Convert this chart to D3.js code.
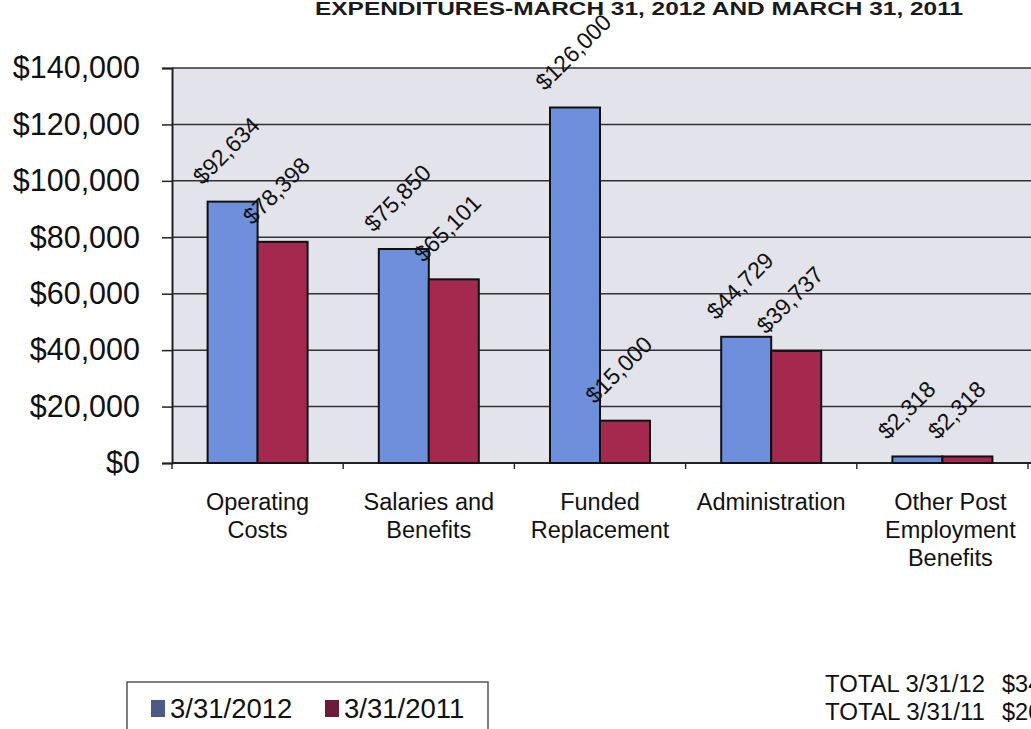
<!DOCTYPE html>
<html>
<head>
<meta charset="utf-8">
<script src="https://cdn.jsdelivr.net/npm/d3@7"></script>
<style>
  html, body { margin: 0; padding: 0; background: #ffffff; }
  svg { display: block; font-family: Arial, "Liberation Sans", Helvetica, sans-serif; }
</style>
</head>
<body>
<svg id="chart" width="1031" height="729"></svg>
<script>
// Expenditure categories (multi-line axis labels)
const categories = [
  ["Operating", "Costs"],
  ["Salaries and", "Benefits"],
  ["Funded", "Replacement"],
  ["Administration"],
  ["Other Post", "Employment", "Benefits"]
];
const seriesNames = ["3/31/2012", "3/31/2011"];
const values2012 = [92634, 75850, 126000, 44729, 2318];
const values2011 = [78398, 65101, 15000, 39737, 2318];
const yTicks = [0, 20000, 40000, 60000, 80000, 100000, 120000, 140000];
const titleText = "EXPENDITURES-MARCH 31, 2012 AND MARCH 31, 2011";
const totalLabels = ["TOTAL 3/31/12", "TOTAL 3/31/11"];

const barColors = ["#6d8fdc", "#a3294f"];
const swatchColors = ["#4b5b86", "#6a1c3a"];

const svg = d3.select("#chart");
const W = 1031, H = 729;
const plot = { left: 172, right: 1028, top: 68, bottom: 463 };

const y = d3.scaleLinear().domain([0, 140000]).range([plot.bottom, plot.top]);
const x0 = d3.scaleBand()
  .domain(d3.range(categories.length))
  .range([plot.left, plot.right])
  .padding(0);
const groupPad = 35.6;
const x1 = d3.scaleBand()
  .domain([0, 1])
  .range([groupPad, x0.bandwidth() - groupPad])
  .padding(0);

// Plot area background
svg.append("rect")
  .attr("x", plot.left).attr("y", plot.top)
  .attr("width", W - plot.left + 10).attr("height", plot.bottom - plot.top)
  .attr("fill", "#e3e3eb");

// Horizontal gridlines
svg.append("g")
  .selectAll("line")
  .data(yTicks)
  .join("line")
  .attr("x1", plot.left).attr("x2", W + 10)
  .attr("y1", d => y(d)).attr("y2", d => y(d))
  .attr("stroke", "#333").attr("stroke-width", 1.5);

// Y axis with currency labels
const fmt = d3.format("$,.0f");
const yAxis = svg.append("g")
  .attr("transform", `translate(${plot.left},0)`)
  .call(d3.axisLeft(y).tickValues(yTicks).tickFormat(fmt).tickSize(10).tickPadding(22));
yAxis.select(".domain").attr("stroke", "#222").attr("stroke-width", 2);
yAxis.selectAll(".tick line").attr("stroke", "#222").attr("stroke-width", 1.5);
yAxis.selectAll(".tick text")
  .attr("font-size", 30.5).attr("fill", "#111")
  .attr("font-family", "Arial, 'Liberation Sans', sans-serif");

// X axis baseline with tick marks at category boundaries
const xAxis = svg.append("g");
xAxis.append("line")
  .attr("x1", plot.left).attr("x2", W + 10)
  .attr("y1", plot.bottom).attr("y2", plot.bottom)
  .attr("stroke", "#222").attr("stroke-width", 2);
xAxis.selectAll("line.tk")
  .data(d3.range(categories.length + 1))
  .join("line")
  .attr("class", "tk")
  .attr("x1", d => plot.left + d * x0.step())
  .attr("x2", d => plot.left + d * x0.step())
  .attr("y1", plot.bottom).attr("y2", plot.bottom + 6)
  .attr("stroke", "#222").attr("stroke-width", 1.4);

// Bars
const groups = svg.append("g")
  .selectAll("g")
  .data(categories.map((c, i) => [values2012[i], values2011[i]]))
  .join("g")
  .attr("transform", (d, i) => `translate(${x0(i)},0)`);

groups.selectAll("rect")
  .data(d => d)
  .join("rect")
  .attr("x", (d, j) => x1(j))
  .attr("y", d => y(d))
  .attr("width", x1.bandwidth())
  .attr("height", d => plot.bottom - y(d))
  .attr("fill", (d, j) => barColors[j])
  .attr("stroke", "#111")
  .attr("stroke-width", 2);

// Rotated value labels
groups.selectAll("text.val")
  .data(d => d)
  .join("text")
  .attr("class", "val")
  .attr("transform", (d, j) => {
    const cx = x1(j) + x1.bandwidth() / 2 - 30;
    const cy = y(d) - 16;
    return `translate(${cx},${cy}) rotate(-45)`;
  })
  .attr("font-size", 23)
  .attr("fill", "#111")
  .text(d => fmt(d));

// Category labels
const catLabels = svg.append("g")
  .selectAll("text")
  .data(categories)
  .join("text")
  .attr("x", (d, i) => x0(i) + x0.bandwidth() / 2 + (i === 4 ? 8 : 0))
  .attr("y", 510)
  .attr("text-anchor", "middle")
  .attr("font-size", 23.5)
  .attr("fill", "#111");
catLabels.selectAll("tspan")
  .data(d => d)
  .join("tspan")
  .attr("x", function () { return this.parentNode.getAttribute("x"); })
  .attr("dy", (d, k) => k === 0 ? 0 : 28)
  .text(d => d);

// Title
svg.append("text")
  .attr("x", 315).attr("y", 15)
  .attr("font-size", 18)
  .attr("font-weight", "bold")
  .attr("fill", "#1a1a1a")
  .attr("textLength", 648)
  .attr("lengthAdjust", "spacingAndGlyphs")
  .text(titleText);

// Legend
const legend = svg.append("g");
legend.append("rect")
  .attr("x", 127).attr("y", 682)
  .attr("width", 361).attr("height", 70)
  .attr("fill", "#ffffff")
  .attr("stroke", "#555").attr("stroke-width", 1.5);
const legendX = [151, 325];
seriesNames.forEach((name, i) => {
  legend.append("rect")
    .attr("x", legendX[i]).attr("y", 700)
    .attr("width", 14).attr("height", 17)
    .attr("fill", swatchColors[i]);
  legend.append("text")
    .attr("x", legendX[i] + 19).attr("y", 718)
    .attr("font-size", 27.5)
    .attr("fill", "#111")
    .text(name);
});

// Totals
const totals = [d3.sum(values2012), d3.sum(values2011)];
totalLabels.forEach((t, i) => {
  svg.append("text")
    .attr("x", 825).attr("y", 692 + i * 28)
    .attr("font-size", 23.5)
    .attr("fill", "#111")
    .attr("textLength", 160)
    .attr("lengthAdjust", "spacingAndGlyphs")
    .text(t);
  svg.append("text")
    .attr("x", 1002).attr("y", 692 + i * 28)
    .attr("font-size", 23.5)
    .attr("fill", "#111")
    .text(fmt(totals[i]));
});
</script>
</body>
</html>
